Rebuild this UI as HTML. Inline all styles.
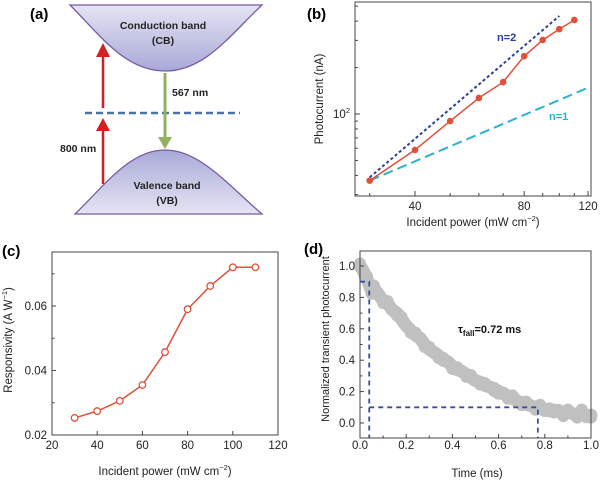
<!DOCTYPE html>
<html><head><meta charset="utf-8">
<style>
html,body{margin:0;padding:0;background:#fff;}
svg{display:block;font-family:"Liberation Sans",Arial,sans-serif;}
</style></head>
<body>
<svg id="fig" width="600" height="482" viewBox="0 0 600 482" xmlns="http://www.w3.org/2000/svg">
<defs>
<linearGradient id="cbg" x1="0" y1="0" x2="0" y2="1"><stop offset="0" stop-color="#e4e4f4"/><stop offset="1" stop-color="#a9a9d8"/></linearGradient>
<linearGradient id="vbg" x1="0" y1="0" x2="0" y2="1"><stop offset="0" stop-color="#a9a9d8"/><stop offset="1" stop-color="#e4e4f4"/></linearGradient>
</defs>
<g>
<text x="30" y="19" font-size="15" font-weight="bold">(a)</text>
<path d="M70,5 C100,35 125,71 165,71 C205,71 230,35 262,5 Z" fill="url(#cbg)" stroke="#7a5aa0" stroke-width="1.3"/>
<path d="M75,214 C105,185 130,150 165,150 C200,150 228,185 262,214 Z" fill="url(#vbg)" stroke="#7a5aa0" stroke-width="1.3"/>
<text x="163" y="29" font-size="10.5" font-weight="bold" text-anchor="middle" fill="#222">Conduction band</text>
<text x="163" y="44" font-size="10.5" font-weight="bold" text-anchor="middle" fill="#222">(CB)</text>
<text x="167" y="189" font-size="10.5" font-weight="bold" text-anchor="middle" fill="#222">Valence band</text>
<text x="167" y="204" font-size="10.5" font-weight="bold" text-anchor="middle" fill="#222">(VB)</text>
<line x1="85" y1="113" x2="240" y2="113" stroke="#4a74a8" stroke-width="2.5" stroke-dasharray="7,4"/>
<g stroke="#d42020" fill="#d42020">
<line x1="103" y1="184" x2="103" y2="128" stroke-width="2.5"/>
<path d="M96,131 L103,118 L110,131 Z" stroke="none"/>
<line x1="103" y1="108" x2="103" y2="54" stroke-width="2.5"/>
<path d="M96,57 L103,43 L110,57 Z" stroke="none"/>
</g>
<g>
<line x1="165" y1="73" x2="165" y2="138" stroke="#95b060" stroke-width="3"/>
<path d="M158,137 L165,149 L172,137 Z" fill="#95b060"/>
</g>
<text x="172" y="96" font-size="10.5" font-weight="bold" fill="#222">567 nm</text>
<text x="60" y="152" font-size="10.5" font-weight="bold" fill="#222">800 nm</text>
</g>
<g id="pb"></g>
<g id="pc"></g>
<g id="pd"></g>
</svg>
<script>
// Panel b data
const bPower = [30,40,50,60,70,80,90,100,110];
const bCurrent = [37,58.5,90,127,161,237,302,355,407];
const bXTicks = [40,80,120];
const bXMinor = [30,50,60,70,90,100,110];
const bYMinor = [30,40,50,60,70,80,90,200,300,400,500];
const bN2Range = [30,100];
const bN1Range = [30,120];
// Panel c data
const cPower = [30,40,50,60,70,80,90,100,110];
const cResp = [0.0253,0.0274,0.0306,0.0355,0.0457,0.059,0.0662,0.072,0.072];
const cXTicks = [20,40,60,80,100,120];
const cYTicks = [0.02,0.04,0.06];
const cYMinor = [0.03,0.05,0.07];
// Panel d data
const dTime = [0,0.01,0.02,0.03,0.04,0.05,0.06,0.08,0.1,0.12,0.14,0.16,0.18,0.2,0.22,0.24,0.26,0.28,0.3,0.32,0.34,0.36,0.38,0.4,0.42,0.44,0.46,0.48,0.5,0.52,0.54,0.56,0.58,0.6,0.62,0.64,0.66,0.68,0.7,0.72,0.74,0.76,0.78,0.8,0.82,0.84,0.86,0.88,0.9,0.92,0.94,0.96,0.98,1.0];
const dSignal = [1.0,0.98,0.95,0.92,0.88,0.84,0.86,0.82,0.78,0.76,0.72,0.70,0.66,0.62,0.59,0.56,0.54,0.50,0.47,0.45,0.43,0.40,0.39,0.36,0.34,0.33,0.31,0.29,0.27,0.26,0.24,0.23,0.22,0.19,0.19,0.17,0.16,0.14,0.13,0.12,0.11,0.10,0.10,0.08,0.09,0.07,0.08,0.06,0.07,0.06,0.05,0.07,0.04,0.05];
const dXTicks = [0,0.2,0.4,0.6,0.8,1.0];
const dYTicks = [0,0.2,0.4,0.6,0.8,1.0];
const dMark = [0.04,0.77,0.9,0.1];

const NS="http://www.w3.org/2000/svg";
function mk(parent,tag,attrs,text){const e=document.createElementNS(NS,tag);for(const k in attrs)e.setAttribute(k,attrs[k]);if(text!==undefined)e.textContent=text;parent.appendChild(e);return e;}
const FS=11.5;

(function(){
const g=document.getElementById('pb');
const L=355,R=591,T=2,B=196;
const xs=v=>415+157.5*Math.log(v/40);
const ys=v=>114-67*Math.log(v/100);
let e=mk(g,'text',{x:307,y:19,'font-size':15,'font-weight':'bold'},'(b)');


e=mk(g,'rect',{x:L,y:T,width:R-L,height:B-T,fill:'none',stroke:'#444','stroke-width':1});


bXTicks.forEach(v=>{const x=xs(v);mk(g,'line',{x1:x,y1:B,x2:x,y2:B-5,stroke:'#444'});
 e=mk(g,'text',{x:x,y:210,'font-size':FS,'text-anchor':'middle',fill:'#222'},v);
 
 });
bXMinor.forEach(v=>{const x=xs(v);mk(g,'line',{x1:x,y1:B,x2:x,y2:B-3,stroke:'#444'});});
bYMinor.forEach(v=>{const y=ys(v);if(y>T&&y<B)mk(g,'line',{x1:L,y1:y,x2:L+3,y2:y,stroke:'#444'});});
mk(g,'line',{x1:L,y1:ys(100),x2:L+5,y2:ys(100),stroke:'#444'});
e=mk(g,'text',{x:350,y:ys(100)+4,'font-size':FS,'text-anchor':'end',fill:'#222'});


e.innerHTML='10<tspan dy="-5" font-size="7.5">2</tspan>';
const i0=bCurrent[0];
let l=mk(g,'line',{x1:xs(bN2Range[0]),y1:ys(i0*1.05),x2:xs(bN2Range[1]),y2:ys(i0*1.05*Math.pow(bN2Range[1]/bN2Range[0],2)),stroke:'#2a3f99','stroke-width':2,'stroke-dasharray':'3,2.5'});


l=mk(g,'line',{x1:xs(bN1Range[0]),y1:ys(i0),x2:xs(bN1Range[1]),y2:ys(i0*bN1Range[1]/bN1Range[0]),stroke:'#2ab0d0','stroke-width':2,'stroke-dasharray':'10,5'});


const pts=bPower.map((p,i)=>xs(p)+','+ys(bCurrent[i])).join(' ');
l=mk(g,'polyline',{points:pts,fill:'none',stroke:'#e0503a','stroke-width':1.5});


bPower.forEach((p,i)=>{const c=mk(g,'circle',{cx:xs(p),cy:ys(bCurrent[i]),r:3.3,fill:'#e0503a'});
 
 });
e=mk(g,'text',{x:497,y:41,'font-size':11,'font-weight':'bold',fill:'#2a3f99'},'n=2');


e=mk(g,'text',{x:549,y:120,'font-size':11,'font-weight':'bold',fill:'#2ab0d0'},'n=1');


e=mk(g,'text',{x:473,y:226,'font-size':FS,'text-anchor':'middle',fill:'#222'});


e.innerHTML='Incident power (mW cm<tspan dy="-5" font-size="7.5">−2</tspan><tspan dy="5">)</tspan>';
e=mk(g,'text',{x:0,y:0,'font-size':FS,'text-anchor':'middle',fill:'#222',transform:'translate(323,99) rotate(-90)'},'Photocurrent (nA)');


})();

(function(){
const g=document.getElementById('pc');
const L=52,R=278,T=252,B=435;
const xs=v=>L+(v-20)*(R-L)/100;
const ys=v=>B-(v-0.02)*3225;
let e=mk(g,'text',{x:2,y:256,'font-size':15,'font-weight':'bold'},'(c)');


e=mk(g,'rect',{x:L,y:T,width:R-L,height:B-T,fill:'none',stroke:'#444','stroke-width':1});


cXTicks.forEach(v=>{const x=xs(v);mk(g,'line',{x1:x,y1:B,x2:x,y2:B-4,stroke:'#444'});
 e=mk(g,'text',{x:x,y:449,'font-size':FS,'text-anchor':'middle',fill:'#222'},v);
 
 });
cYTicks.forEach(v=>{const y=ys(v);mk(g,'line',{x1:L,y1:y,x2:L+4,y2:y,stroke:'#444'});
 e=mk(g,'text',{x:47,y:y+4,'font-size':FS,'text-anchor':'end',fill:'#222'},v.toFixed(2));
 
 });
cYMinor.forEach(v=>{const y=ys(v);mk(g,'line',{x1:L,y1:y,x2:L+2.5,y2:y,stroke:'#444'});});
const pts=cPower.map((p,i)=>xs(p)+','+ys(cResp[i])).join(' ');
let l=mk(g,'polyline',{points:pts,fill:'none',stroke:'#e0503a','stroke-width':1.5});


cPower.forEach((p,i)=>{const c=mk(g,'circle',{cx:xs(p),cy:ys(cResp[i]),r:3.3,fill:'#fff',stroke:'#e0503a','stroke-width':1.3});
 
 });
e=mk(g,'text',{x:165,y:475,'font-size':FS,'text-anchor':'middle',fill:'#222'});


e.innerHTML='Incident power (mW cm<tspan dy="-5" font-size="7.5">−2</tspan><tspan dy="5">)</tspan>';
e=mk(g,'text',{x:0,y:0,'font-size':FS,'text-anchor':'middle',fill:'#222',transform:'translate(12,340) rotate(-90)'});


e.innerHTML='Responsivity (A W<tspan dy="-5" font-size="7.5">−1</tspan><tspan dy="5">)</tspan>';
})();

(function(){
const g=document.getElementById('pd');
const L=360,R=591,T=251,B=438;
const xs=v=>L+v*(R-L);
const ys=v=>423-v*157;
let e=mk(g,'text',{x:304,y:254,'font-size':15,'font-weight':'bold'},'(d)');


const pts=dTime.map((t,i)=>xs(t)+','+ys(dSignal[i])).join(' ');
let l=mk(g,'polyline',{points:pts,fill:'none',stroke:'#c0c0c0','stroke-width':13,'stroke-linejoin':'round','stroke-linecap':'round'});


dTime.forEach((t,i)=>{const c=mk(g,'circle',{cx:xs(t),cy:ys(dSignal[i])+((i%3)-1)*2.5,r:6,fill:'#c0c0c0'});
 
 });
e=mk(g,'rect',{x:L,y:T,width:R-L,height:B-T,fill:'none',stroke:'#444','stroke-width':1});


dXTicks.forEach(v=>{const x=xs(v);mk(g,'line',{x1:x,y1:B,x2:x,y2:B-4,stroke:'#444'});
 e=mk(g,'text',{x:x,y:449,'font-size':FS,'text-anchor':'middle',fill:'#222'},v.toFixed(1));
 
 
 const xm=xs(v+0.1);if(v<1)mk(g,'line',{x1:xm,y1:B,x2:xm,y2:B-2.5,stroke:'#444'});});
dYTicks.forEach(v=>{const y=ys(v);mk(g,'line',{x1:L,y1:y,x2:L+4,y2:y,stroke:'#444'});
 e=mk(g,'text',{x:355,y:y+4,'font-size':FS,'text-anchor':'end',fill:'#222'},v.toFixed(1));
 
 
 const ym=ys(v+0.1);if(v<1)mk(g,'line',{x1:L,y1:ym,x2:L+2.5,y2:ym,stroke:'#444'});});
const ds={stroke:'#3a4f96','stroke-width':1.8,'stroke-dasharray':'5,4',fill:'none'};
l=mk(g,'polyline',Object.assign({points:L+','+ys(dMark[2])+' '+xs(dMark[0])+','+ys(dMark[2])+' '+xs(dMark[0])+','+B},ds));


l=mk(g,'polyline',Object.assign({points:xs(dMark[0])+','+ys(dMark[3])+' '+xs(dMark[1])+','+ys(dMark[3])+' '+xs(dMark[1])+','+B},ds));


e=mk(g,'text',{x:458,y:333,'font-size':11,'font-weight':'bold',fill:'#111'});


e.innerHTML='τ<tspan dy="3" font-size="8">fall</tspan><tspan dy="-3">=0.72 ms</tspan>';
e=mk(g,'text',{x:477,y:477,'font-size':FS,'text-anchor':'middle',fill:'#222'},'Time (ms)');


e=mk(g,'text',{x:0,y:0,'font-size':11,'text-anchor':'middle',fill:'#222',transform:'translate(329,339) rotate(-90)'},'Normalized transient photocurrent');


})();
</script>
</body></html>
